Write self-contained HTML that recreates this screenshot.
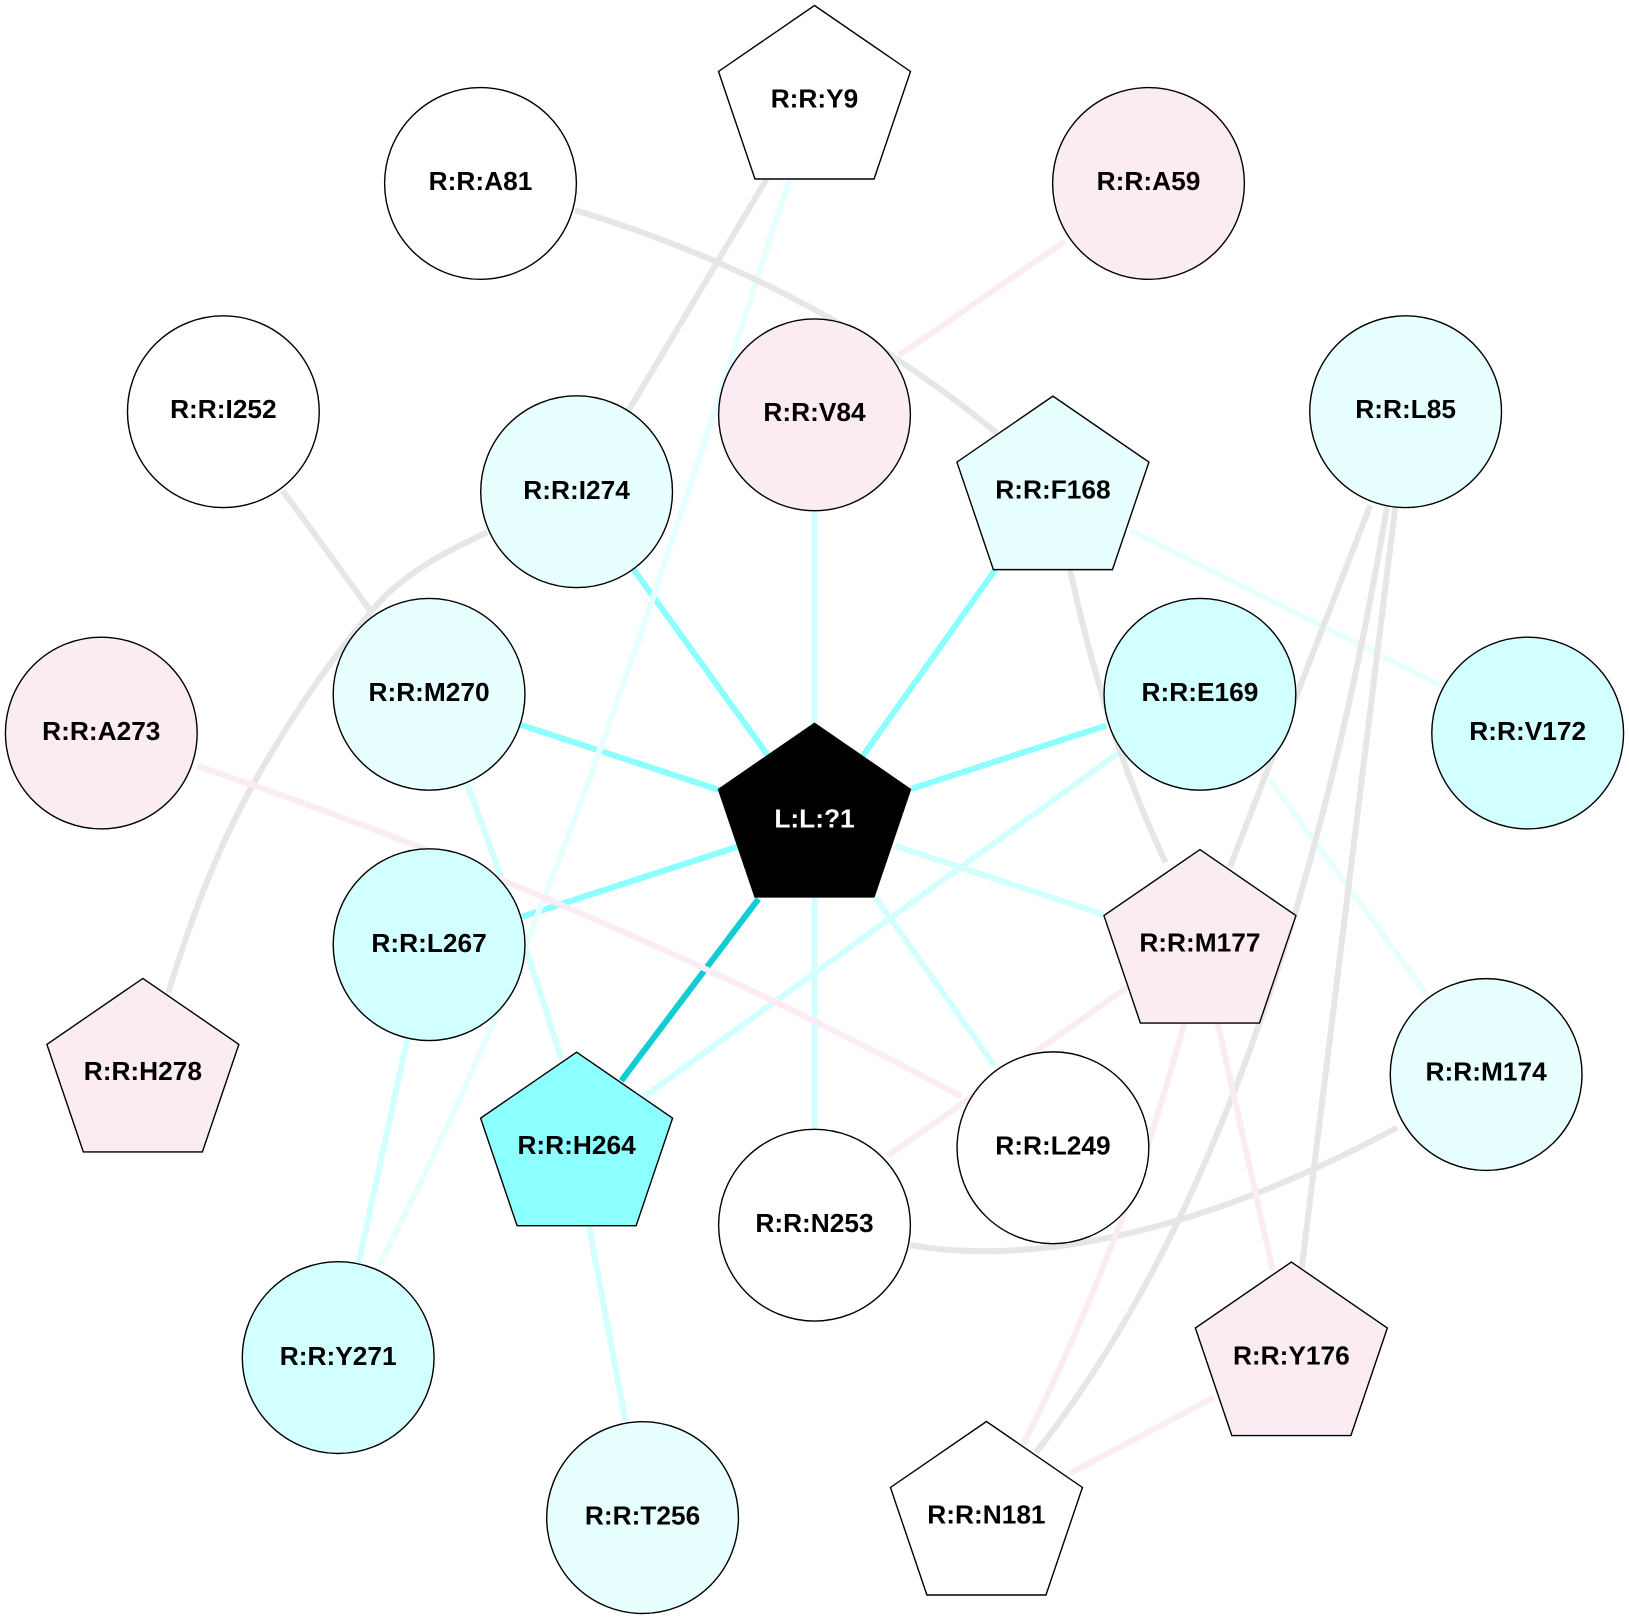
<!DOCTYPE html>
<html><head><meta charset="utf-8"><style>
html,body{margin:0;padding:0;background:#fff}
svg{display:block}
text{font-family:"Liberation Sans",Arial,sans-serif;font-weight:bold;font-size:25.3px;text-anchor:middle;fill:#000}
.e{fill:none;stroke-width:5.8}
.n{stroke:#000;stroke-width:1.35}
.a{stroke:#e8ffff}.b{stroke:#d2ffff}.c{stroke:#8cffff}.d{stroke:#11ccd3}.g{stroke:#e6e6e6}.p{stroke:#fbebf2}
</style></head><body>
<svg width="1629" height="1619" viewBox="0 0 1568 1558.4" xmlns="http://www.w3.org/2000/svg">
<rect width="1568" height="1559" fill="#fff"/>
<defs><polygon id="pg" points="0,0 92.4,63.5 57.3,167 -57.3,167 -92.4,63.5"/></defs>
<g transform="translate(0,0.3)">
<path class="e c" d="M610,548L740,728"/>
<path class="e c" d="M958,548L830,728"/>
<path class="e c" d="M1065,698L877,759"/>
<path class="e c" d="M500,697L692,760"/>
<path class="e c" d="M503,882L712,814"/>
<path class="e d" d="M598,1040L730,865"/>
<path class="e b" d="M784,490L784,696"/>
<path class="e b" d="M862,814L1062,880"/>
<path class="e b" d="M784,864L784,1087"/>
<path class="e b" d="M843,864L957,1025"/>
<path class="e b" d="M1076,725L620,1055"/>
<path class="e b" d="M450,755Q500,890 540,1018"/>
<path class="e b" d="M392,1000L345,1216"/>
<path class="e b" d="M567,1180L602,1368"/>
<path class="e a" d="M760,172C645,522 545,868 365,1218"/>
<path class="e a" d="M1088,510L1388,660"/>
<path class="e a" d="M1222,750L1372,955"/>
<path class="e p" d="M1025,232L865,342"/>
<path class="e g" d="M738,172L605,395"/>
<path class="e g" d="M553.5,202Q785,272 960,417"/>
<path class="e g" d="M272,472Q315,530 356,587"/>
<path class="e g" d="M1030,548Q1065,710 1122,830"/>
<path class="e g" d="M1319,486L1184,834"/>
<path class="e g" d="M1343,488L1253,1220"/>
<path class="e g" d="M1335,488Q1232,1100 997,1398"/>
<path class="e g" d="M162,955C185,880 210,815 244,754C280,690 320,630 369,575C400,545 435,528 469,512"/>
<path class="e g" d="M876,1198C950,1212 1110,1212 1345,1085"/>
<path class="e p" d="M190,737Q580,870 925,1055"/>
<path class="e p" d="M1085,950L855,1112"/>
<path class="e p" d="M1140,984Q1085,1190 985,1390"/>
<path class="e p" d="M1172,984L1225,1222"/>
<path class="e p" d="M1168,1345L1030,1418"/>
<g class="n">
<circle cx="462.5" cy="176.3" r="92.3" fill="#fff"/>
<circle cx="1105.5" cy="176.3" r="92.3" fill="#fbecf4"/>
<circle cx="215" cy="396" r="92.3" fill="#fff"/>
<circle cx="784" cy="399" r="92.3" fill="#fbecf4"/>
<circle cx="1353" cy="396" r="92.3" fill="#e8ffff"/>
<circle cx="555" cy="473" r="92.3" fill="#e8ffff"/>
<circle cx="413" cy="668" r="92.3" fill="#e8ffff"/>
<circle cx="1155" cy="668" r="92.3" fill="#d2ffff"/>
<circle cx="97.5" cy="705.3" r="92.3" fill="#fbecf4"/>
<circle cx="1470.5" cy="705.3" r="92.3" fill="#d2ffff"/>
<circle cx="413" cy="909" r="92.3" fill="#d2ffff"/>
<circle cx="1430.5" cy="1034" r="92.3" fill="#e8ffff"/>
<circle cx="1013.5" cy="1104.5" r="92.3" fill="#fff"/>
<circle cx="784" cy="1179" r="92.3" fill="#fff"/>
<circle cx="325.5" cy="1306.5" r="92.3" fill="#d2ffff"/>
<circle cx="618.5" cy="1460.5" r="92.3" fill="#e8ffff"/>
<use href="#pg" x="784" y="5" fill="#fff"/>
<use href="#pg" x="1013.5" y="381" fill="#e8ffff"/>
<use href="#pg" x="784" y="696" fill="#000"/>
<use href="#pg" x="1155" y="817.5" fill="#fbecf4"/>
<use href="#pg" x="137.5" y="941.5" fill="#fbecf4"/>
<use href="#pg" x="555" y="1012.5" fill="#8cffff"/>
<use href="#pg" x="1243" y="1214.5" fill="#fbecf4"/>
<use href="#pg" x="949.5" y="1368" fill="#fff"/>
</g>
<text x="462.5" y="182.5">R:R:A81</text>
<text x="1105.5" y="182.5">R:R:A59</text>
<text x="215" y="402">R:R:I252</text>
<text x="784" y="405">R:R:V84</text>
<text x="1353" y="402">R:R:L85</text>
<text x="555" y="480">R:R:I274</text>
<text x="413" y="674.5">R:R:M270</text>
<text x="1155" y="674.5">R:R:E169</text>
<text x="97.5" y="712">R:R:A273</text>
<text x="1470.5" y="712">R:R:V172</text>
<text x="413" y="916">R:R:L267</text>
<text x="1430.5" y="1040">R:R:M174</text>
<text x="1013.5" y="1111">R:R:L249</text>
<text x="784" y="1185.5">R:R:N253</text>
<text x="325.5" y="1313.5">R:R:Y271</text>
<text x="618.5" y="1467">R:R:T256</text>
<text x="784" y="103">R:R:Y9</text>
<text x="1013.5" y="479.5">R:R:F168</text>
<text x="784" y="796" style="fill:#fff">L:L:?1</text>
<text x="1155" y="915.5">R:R:M177</text>
<text x="137.5" y="1039.5">R:R:H278</text>
<text x="555" y="1110.5">R:R:H264</text>
<text x="1243" y="1313">R:R:Y176</text>
<text x="949.5" y="1466">R:R:N181</text>
</g>
</svg>
</body></html>
